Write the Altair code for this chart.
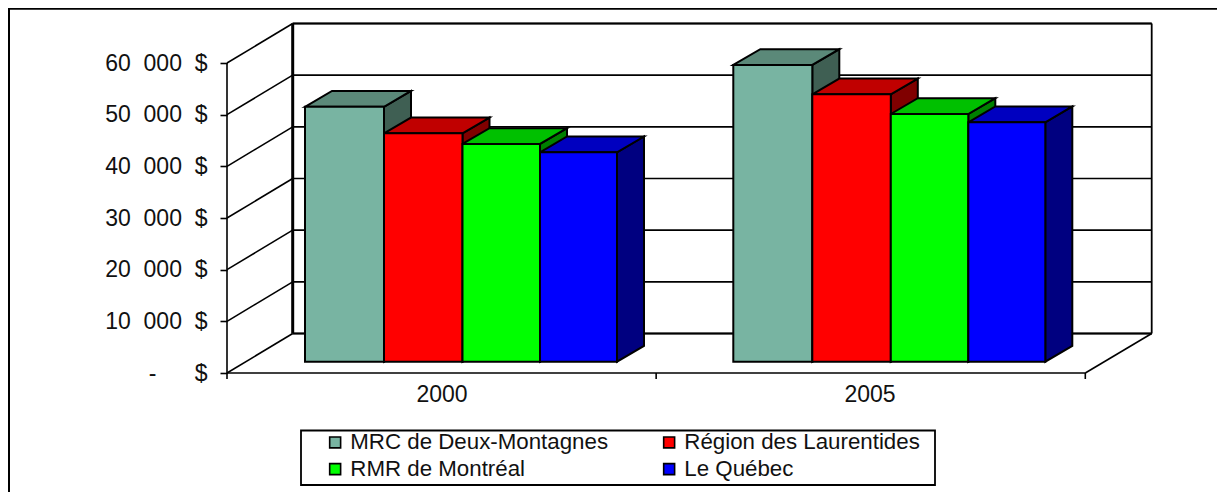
import altair as alt
import pandas as pd

# ---- data ----
years = ["2000", "2005"]
series = ["MRC de Deux-Montagnes", "Région des Laurentides", "RMR de Montréal", "Le Québec"]
values_2000 = [49340, 44200, 42140, 40530]
values_2005 = [57430, 51750, 47940, 46340]
ticks = [0, 10000, 20000, 30000, 40000, 50000, 60000]

front_colors = ["#78B4A2", "#FF0000", "#00FF00", "#0000FF"]
top_colors = ["#5B8979", "#C00000", "#00C000", "#0000C0"]
side_colors = ["#3F5F53", "#800000", "#008000", "#000080"]
legend_order = [0, 2, 1, 3]

# ---- layout constants (page pixels) ----
W, H = 1209, 484
K = 60000 / 310            # dollars per pixel
Y0 = 373                   # page y of the zero line


def py(p):
    return (Y0 - p) * K


FONT = "Liberation Sans"
FS = 23
LEGEND_FS = 22.3
x_scale = alt.Scale(domain=[8, 8 + W], nice=False, zero=False)
y_scale = alt.Scale(domain=[py(8 + H), py(8)], nice=False, zero=False)

AX_L, AX_R = 227, 1085.3
BK_L, BK_R = 292.7, 1151.7
WALL_DY = 39.5 * K
BASE = py(361.7)
EDGES = [0, 79, 157.5, 235, 312]
DEPTH_X, DEPTH_Y = 27, 15.8 * K
GROUP_LEFT = [305, 733.3]
CENTERS = [441.5, 869.5]

# ---- axes ----
y_label = (
    "datum.value === 0 ? '-\u00a0\u00a0\u00a0\u00a0\u00a0\u00a0$' : "
    "replace(format(datum.value, ','), ',', '\u00a0\u00a0') + '\u00a0\u00a0$'"
)
x_label = f"datum.value < 600 ? '{years[0]}' : '{years[1]}'"

x_axis = alt.Axis(
    title=None, orient="bottom", offset=-(8 + H - Y0), values=CENTERS, ticks=False,
    domain=False, grid=False, labelExpr=x_label, labelFont=FONT, labelFontSize=FS,
    labelColor="#111111", labelPadding=10,
)
y_axis = alt.Axis(
    title=None, orient="left", offset=-(AX_L - 8), values=ticks, domain=False, grid=False,
    tickSize=7, tickWidth=1.6, tickColor="black", labelExpr=y_label, labelFont=FONT,
    labelFontSize=FS, labelColor="#111111", labelPadding=13,
)

# ---- frame and box lines ----
lines = []


def seg(x, y, x2, y2, w):
    lines.append(dict(x=x, y=y, x2=x2, y2=y2, w=w))


seg(9, py(8.7), 8 + W, py(8.7), 2)
seg(9, py(8), 9, py(8 + H), 2)
for t in ticks:
    seg(AX_L, t, BK_L, t + WALL_DY, 1.6)
    seg(BK_L, t + WALL_DY, BK_R, t + WALL_DY, 1.6)
seg(BK_L, WALL_DY, BK_R, WALL_DY, 2.2)
seg(BK_L, 60000 + WALL_DY, BK_R, 60000 + WALL_DY, 2.2)
seg(BK_L, WALL_DY, BK_L, 60000 + WALL_DY, 3)
seg(BK_R, WALL_DY, BK_R, 60000 + WALL_DY, 1.8)
seg(AX_L, 0, AX_L, 60000, 1.6)
seg(AX_L, 0, AX_R, 0, 1.6)
seg(AX_R, 0, BK_R, WALL_DY, 1.6)
for xt in [AX_L, (AX_L + AX_R) / 2, AX_R]:
    seg(xt, 0, xt, py(379), 1.6)

rules = alt.Chart(pd.DataFrame(lines)).mark_rule(color="black").encode(
    x=alt.X("x:Q", scale=x_scale, axis=x_axis),
    y=alt.Y("y:Q", scale=y_scale, axis=y_axis),
    x2="x2:Q",
    y2="y2:Q",
    strokeWidth=alt.StrokeWidth("w:Q", scale=None),
)

# ---- bars: front, top and side faces ----
fronts, faces_side, faces_top = [], [], []
for g, vals in enumerate([values_2000, values_2005]):
    for i, v in enumerate(vals):
        xl = GROUP_LEFT[g] + EDGES[i]
        xr = GROUP_LEFT[g] + EDGES[i + 1]
        top = BASE + v
        bar = f"{g}-{i}"
        fronts.append(dict(x=xl, x2=xr, y=BASE, y2=top, series=series[i]))
        faces_side += [
            dict(bar=bar, x=xr, y=top, y2=BASE, c=side_colors[i]),
            dict(bar=bar, x=xr + DEPTH_X, y=top + DEPTH_Y, y2=BASE + DEPTH_Y, c=side_colors[i]),
        ]
        faces_top += [
            dict(bar=bar, x=xl, y=top, y2=top, c=top_colors[i]),
            dict(bar=bar, x=xl + DEPTH_X, y=top + DEPTH_Y, y2=top, c=top_colors[i]),
            dict(bar=bar, x=xr, y=top + DEPTH_Y, y2=top, c=top_colors[i]),
            dict(bar=bar, x=xr + DEPTH_X, y=top + DEPTH_Y, y2=top + DEPTH_Y, c=top_colors[i]),
        ]


def face_layer(rows):
    return alt.Chart(pd.DataFrame(rows)).mark_area(
        orient="vertical", stroke="black", strokeWidth=2, opacity=1
    ).encode(
        x=alt.X("x:Q", scale=x_scale, axis=x_axis),
        y=alt.Y("y:Q", scale=y_scale, axis=y_axis, stack=None),
        y2="y2:Q",
        fill=alt.Fill("c:N", scale=None),
        detail="bar:N",
    )


legend_box = alt.Chart(pd.DataFrame([dict(x=301, x2=935, y=py(430.5), y2=py(485))])).mark_rect(
    fill="white", stroke="black", strokeWidth=1.8
).encode(
    x=alt.X("x:Q", scale=x_scale, axis=x_axis),
    x2="x2:Q",
    y=alt.Y("y:Q", scale=y_scale, axis=y_axis),
    y2="y2:Q",
)

front_layer = alt.Chart(pd.DataFrame(fronts)).mark_rect(stroke="black", strokeWidth=2).encode(
    x=alt.X("x:Q", scale=x_scale, axis=x_axis),
    x2="x2:Q",
    y=alt.Y("y:Q", scale=y_scale, axis=y_axis),
    y2="y2:Q",
    color=alt.Color(
        "series:N",
        scale=alt.Scale(
            domain=[series[i] for i in legend_order],
            range=[front_colors[i] for i in legend_order],
        ),
        legend=alt.Legend(
            title=None,
            orient="none",
            legendX=325 - 8 - 1,
            legendY=431 - 8,
            columns=2,
            symbolType="square",
            symbolSize=120,
            symbolStrokeColor="black",
            symbolStrokeWidth=1.6,
            symbolOpacity=1,
            labelFont=FONT,
            labelFontSize=LEGEND_FS,
            labelColor="#111111",
            labelLimit=400,
            labelOffset=4,
            columnPadding=49,
            rowPadding=4,
            padding=0,
            offset=0,
        ),
    ),
)

chart = alt.layer(
    rules, face_layer(faces_side), face_layer(faces_top), front_layer, legend_box
).properties(
    width=W,
    height=H,
    padding=0,
    autosize=alt.AutoSizeParams(type="none"),
    background="white",
).configure_view(stroke=None)

chart.save("out.html", embed_options={"renderer": "svg", "actions": False})
